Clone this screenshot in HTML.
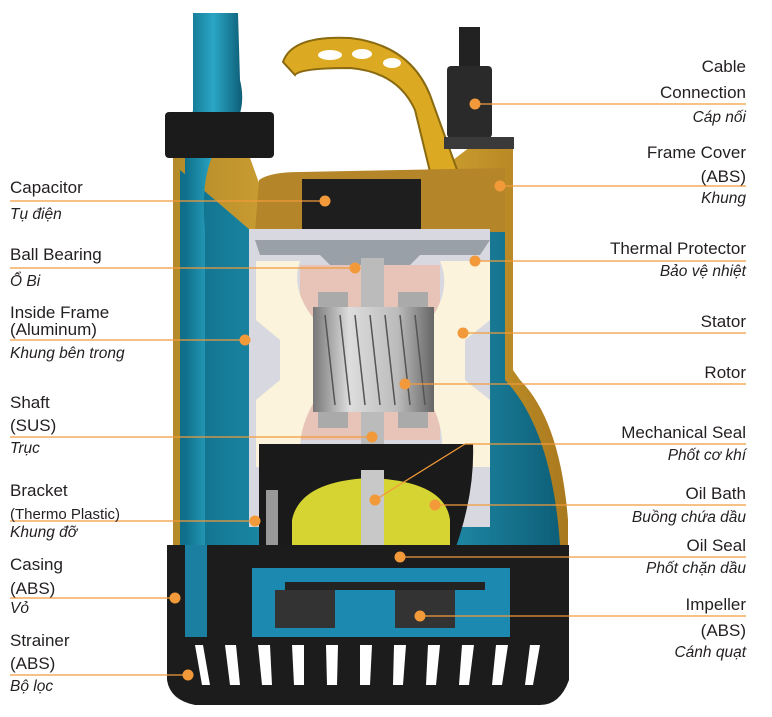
<!DOCTYPE html>
<html><head><meta charset="utf-8"><style>
body{margin:0;background:#fff;width:772px;height:717px;overflow:hidden;position:relative;font-family:"Liberation Sans",sans-serif;color:#231f20}
svg{position:absolute;left:0;top:0}
.t{position:absolute;font-size:17px;line-height:20px;white-space:nowrap}
.i{font-style:italic;font-size:15.5px}
.r{text-align:right;right:26px}
.l{left:10px}
</style></head><body>
<svg width="772" height="717" viewBox="0 0 772 717">
<defs>
<linearGradient id="tb" x1="0" x2="1"><stop offset="0" stop-color="#0f6f8a"/><stop offset=".5" stop-color="#2aa6c4"/><stop offset="1" stop-color="#0e5f78"/></linearGradient>
<linearGradient id="gd" x1="0" x2="1"><stop offset="0" stop-color="#b58a2a"/><stop offset=".5" stop-color="#e0b238"/><stop offset="1" stop-color="#a9791e"/></linearGradient>
<linearGradient id="rt" x1="0" x2="1"><stop offset="0" stop-color="#777"/><stop offset=".3" stop-color="#ddd"/><stop offset=".7" stop-color="#bbb"/><stop offset="1" stop-color="#666"/></linearGradient>
</defs>
<path d="M173 130 L173 545 L568 545 L568 520 Q560 420 520 380 L513 370 L513 147 L470 147 L440 170 L259 183 L240 130 Z" fill="url(#gd)"/>
<path d="M180 170 L180 545 L560 545 Q552 430 505 380 L505 230 L250 230 Z" fill="url(#tb)"/>
<path d="M193 13 L238 13 L240 80 Q250 120 215 150 Q200 180 205 230 L205 545 L185 545 L185 150 L193 110 Z" fill="url(#tb)"/>
<rect x="165" y="112" width="109" height="46" rx="4" fill="#1b1b1b"/>
<!-- handle -->
<path d="M283 62 Q292 35 350 38 Q410 45 430 95 L460 178 L432 180 L415 110 Q398 72 350 68 Q300 68 295 75 Z" fill="#dcaa22" stroke="#8a6a10" stroke-width="2"/>
<g fill="#fff"><ellipse cx="330" cy="55" rx="12" ry="5"/><ellipse cx="362" cy="54" rx="10" ry="5"/><ellipse cx="392" cy="63" rx="9" ry="5"/></g>
<rect x="459" y="27" width="21" height="40" fill="#222"/>
<rect x="447" y="66" width="45" height="72" rx="4" fill="#2a2a2a"/>
<rect x="444" y="137" width="70" height="12" fill="#3a3a3a"/>
<path d="M259 180 Q270 172 300 172 L505 168 L505 232 L255 232 Z" fill="#b5852a"/>
<rect x="302" y="179" width="119" height="59" fill="#1e1e1e"/>
<rect x="249" y="229" width="241" height="298" fill="#d8d9e0"/>
<path d="M255 240 L490 240 L480 255 L420 255 L400 275 L340 275 L320 255 L260 255 Z" fill="#9aa0a8"/>
<path d="M300 265 L440 265 L440 440 L300 440 Z" fill="#e8c4b8"/>
<path d="M256 261 L300 261 Q290 290 315 320 L315 400 Q292 440 305 467 L256 467 L256 400 L280 380 L280 340 L256 320 Z" fill="#fbf3dc"/>
<path d="M490 261 L440 261 Q452 290 430 320 L430 400 Q450 440 437 467 L490 467 L490 400 L465 380 L465 340 L490 320 Z" fill="#fbf3dc"/>
<rect x="361" y="258" width="23" height="340" fill="#bbb"/>
<rect x="318" y="292" width="30" height="18" fill="#aaa"/><rect x="398" y="292" width="30" height="18" fill="#aaa"/>
<rect x="318" y="410" width="30" height="18" fill="#aaa"/><rect x="398" y="410" width="30" height="18" fill="#aaa"/>
<rect x="313" y="307" width="121" height="105" fill="url(#rt)"/>
<g stroke="#555" stroke-width="1.5"><path d="M325 315 L335 405 M340 315 L350 405 M355 315 L365 405 M370 315 L380 405 M385 315 L395 405 M400 315 L410 405 M415 315 L425 405"/></g>
<path d="M259 444 L473 444 Q475 500 450 563 L259 563 Z" fill="#1a1a1a"/>
<path d="M292 520 Q300 481 370 478 Q445 481 450 520 L450 559 L292 559 Z" fill="#d6d432"/>
<rect x="361" y="470" width="23" height="130" fill="#c8c8c8"/>
<rect x="266" y="490" width="12" height="60" fill="#999"/>
<path d="M167 545 L569 545 L569 680 Q560 705 540 705 L195 705 Q170 700 167 680 Z" fill="#1c1c1c"/>
<rect x="252" y="568" width="258" height="69" fill="#1c8ab0"/>
<rect x="285" y="582" width="200" height="8" fill="#222"/>
<rect x="275" y="590" width="60" height="38" fill="#333"/>
<rect x="395" y="590" width="60" height="38" fill="#333"/>
<rect x="185" y="545" width="22" height="92" fill="#1a7fa0"/>
<g fill="#fff">
<path d="M195 645 L203 645 L210 685 L202 685Z M225 645 L236 645 L240 685 L230 685Z M258 645 L270 645 L272 685 L262 685Z M292 645 L304 645 L304 685 L294 685Z M326 645 L338 645 L337 685 L327 685Z M360 645 L372 645 L370 685 L360 685Z M394 645 L406 645 L403 685 L393 685Z M428 645 L440 645 L436 685 L426 685Z M462 645 L474 645 L469 685 L459 685Z M496 645 L508 645 L502 685 L492 685Z M530 645 L540 645 L533 685 L525 685Z"/>
</g>
<g stroke="#f29a3a" stroke-width="1.3" fill="none">
<path d="M10 201 H325 M10 268 H355 M10 340 H245 M10 437 H372 M10 521 H255 M10 598 H175 M10 675 H188"/>
<path d="M475 104 H746 M500 186 H746 M475 261 H746 M463 333 H746 M405 384 H746 M465 444 H746 M465 444 L375 500 M435 505 H746 M400 557 H746 M420 616 H746"/>
</g>
<g fill="#f29a3a">
<circle cx="325" cy="201" r="5.5"/><circle cx="355" cy="268" r="5.5"/><circle cx="245" cy="340" r="5.5"/><circle cx="372" cy="437" r="5.5"/><circle cx="255" cy="521" r="5.5"/><circle cx="175" cy="598" r="5.5"/><circle cx="188" cy="675" r="5.5"/>
<circle cx="475" cy="104" r="5.5"/><circle cx="500" cy="186" r="5.5"/><circle cx="475" cy="261" r="5.5"/><circle cx="463" cy="333" r="5.5"/><circle cx="405" cy="384" r="5.5"/><circle cx="375" cy="500" r="5.5"/><circle cx="435" cy="505" r="5.5"/><circle cx="400" cy="557" r="5.5"/><circle cx="420" cy="616" r="5.5"/>
</g>
</svg>
<div class="t l" style="top:178px">Capacitor</div><div class="t l i" style="top:205px">Tụ điện</div>
<div class="t l" style="top:245px">Ball Bearing</div><div class="t l i" style="top:272px">Ổ Bi</div>
<div class="t l" style="top:303px">Inside Frame</div><div class="t l" style="top:320px">(Aluminum)</div><div class="t l i" style="top:344px">Khung bên trong</div>
<div class="t l" style="top:393px">Shaft</div><div class="t l" style="top:416px">(SUS)</div><div class="t l i" style="top:439px">Trục</div>
<div class="t l" style="top:481px">Bracket</div><div class="t l" style="top:505px;font-size:15px">(Thermo Plastic)</div><div class="t l i" style="top:523px">Khung đỡ</div>
<div class="t l" style="top:555px">Casing</div><div class="t l" style="top:579px">(ABS)</div><div class="t l i" style="top:599px">Vỏ</div>
<div class="t l" style="top:631px">Strainer</div><div class="t l" style="top:654px">(ABS)</div><div class="t l i" style="top:677px">Bộ lọc</div>
<div class="t r" style="top:57px">Cable</div><div class="t r" style="top:83px">Connection</div><div class="t r i" style="top:108px">Cáp nối</div>
<div class="t r" style="top:143px">Frame Cover</div><div class="t r" style="top:167px">(ABS)</div><div class="t r i" style="top:189px">Khung</div>
<div class="t r" style="top:239px">Thermal Protector</div><div class="t r i" style="top:262px">Bảo vệ nhiệt</div>
<div class="t r" style="top:312px">Stator</div>
<div class="t r" style="top:363px">Rotor</div>
<div class="t r" style="top:423px">Mechanical Seal</div><div class="t r i" style="top:446px">Phốt cơ khí</div>
<div class="t r" style="top:484px">Oil Bath</div><div class="t r i" style="top:508px">Buồng chứa dầu</div>
<div class="t r" style="top:536px">Oil Seal</div><div class="t r i" style="top:559px">Phốt chặn dầu</div>
<div class="t r" style="top:595px">Impeller</div><div class="t r" style="top:621px">(ABS)</div><div class="t r i" style="top:643px">Cánh quạt</div>
</body></html>
